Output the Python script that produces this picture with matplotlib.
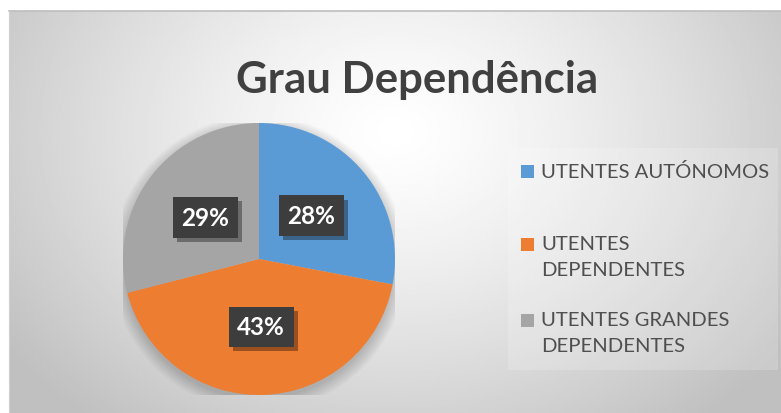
import numpy as np
import matplotlib
matplotlib.use("Agg")
import matplotlib.pyplot as plt
from matplotlib.patches import Rectangle, Circle
import matplotlib.patheffects as pe

plt.rcParams['font.family'] = ['Lato', 'DejaVu Sans']

# data
categories = ['UTENTES AUTÓNOMOS', 'UTENTES\nDEPENDENTES', 'UTENTES GRANDES\nDEPENDENTES']
values = [28, 43, 29]
colors = ['#5B9BD5', '#ED7D31', '#A5A5A5']
title = 'Grau Dependência'

W, H = 781, 414
fig = plt.figure(figsize=(W / 100, H / 100), dpi=100)

# chart area background: radial gradient, white centre to grey edges
x0, y0 = 9, 12  # top-left of chart area (px)
bg = fig.add_axes([x0 / W, 0, 1 - x0 / W, 1 - y0 / H])
bg.set_axis_off()
gx, gy = np.meshgrid(np.linspace(0, 1, 400), np.linspace(0, 1, 220))
d = np.sqrt(((gx - 0.5) / 0.5) ** 2 + ((gy - 0.3) / 0.75) ** 2)
shade = 1 - 0.25 * np.clip(d / 1.25, 0, 1) ** 1.3
bg.imshow(shade, cmap='gray', vmin=0, vmax=1, aspect='auto', extent=[0, 1, 0, 1], origin='upper')
bg.set_xlim(0, 1)
bg.set_ylim(0, 1)
# border lines
fig.add_artist(plt.Line2D([x0 / W, 1], [1 - y0 / H, 1 - y0 / H], color='#bdbdbd', lw=1.2))
fig.add_artist(plt.Line2D([x0 / W, x0 / W], [0, 1 - y0 / H], color='#d0d0d0', lw=0.8))

fig.text(417 / W, 1 - 80 / H, title, ha='center', va='center', fontsize=31.5,
         fontweight='bold', color='#404040')

# pie axes
cx, cy, r = 259, 260, 136
ax = fig.add_axes([(cx - r) / W, (H - cy - r) / H, 2 * r / W, 2 * r / H])
ax.set_axis_off()

# soft shadow under the pie
for i in range(8):
    ax.add_patch(Circle((0.0, -0.03), 1.0 + 0.012 * i, color='black', alpha=0.025, lw=0, zorder=0))

wedges, texts, autotexts = ax.pie(values, colors=colors, startangle=90, counterclock=False,
                                  autopct='%d%%', pctdistance=0.5, radius=1,
                                  wedgeprops=dict(linewidth=0), frame=False)
for w in wedges:
    w.set_zorder(2)
ax.set_xlim(-1, 1)
ax.set_ylim(-1, 1)
ax.set_aspect('equal')
for t in autotexts:
    t.set_color('white')
    t.set_fontsize(17.5)
    t.set_fontweight('bold')
    t.set_zorder(5)
    t.set_bbox(dict(boxstyle='square,pad=0.36', facecolor='#3d3d3d', edgecolor='none'))
    t.get_bbox_patch().set_path_effects([pe.withSimplePatchShadow(offset=(3, -3), shadow_rgbFace='black', alpha=0.35)])

# legend (drawn manually to follow Excel's spacing)
fig.add_artist(Rectangle((508 / W, 1 - 371 / H), 270 / W, 222 / H, transform=fig.transFigure,
                         facecolor='white', alpha=0.18, edgecolor='none'))
leg_y = [172, 245, 321]
for lab, col, yy in zip(categories, colors, leg_y):
    fig.add_artist(Rectangle((521 / W, 1 - (yy + 6.5) / H), 13 / W, 13 / H,
                             transform=fig.transFigure, facecolor=col, edgecolor='none'))
    fig.text(541 / W, 1 - (yy - 9) / H, lab, ha='left', va='top', fontsize=14.6,
             color='#4f4f4f', linespacing=1.64)

fig.savefig('out.png', dpi=100)
